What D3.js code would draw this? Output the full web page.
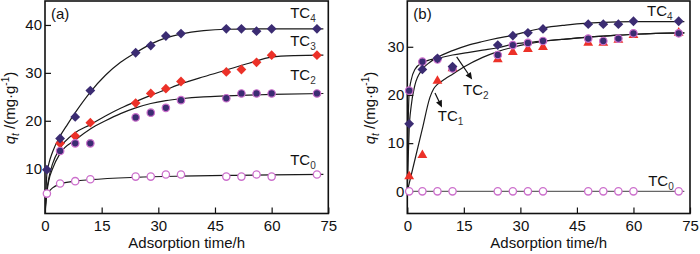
<!DOCTYPE html>
<html><head><meta charset="utf-8">
<script src="https://cdn.jsdelivr.net/npm/d3@7"></script>
<style>
html,body{margin:0;padding:0;background:#fff;}
svg text{font-family:"Liberation Sans",Arial,sans-serif;fill:#111;}
</style></head>
<body><svg id="c" width="700" height="254"></svg>
<script>
// ---------- data ----------
const times = [0.5, 4, 8, 12, 24, 28, 32, 36, 48, 52, 56, 60, 72];
const xTicks = [0, 15, 30, 45, 60, 75];
const yTicksA = [10, 20, 30, 40];
const yTicksB = [0, 10, 20, 30];

// panel (a) measured points
const aTC4 = [9.8, 16.3, 20.8, 26.3, 34.2, 35.7, 37.7, 38.2, 39.2, 39.2, 38.7, 39.2, 39.2];
const aTC3 = [null, 15.3, 16.8, 19.6, 23.7, 25.7, 26.7, 28.2, 30.2, 30.7, 32.2, 33.7, 33.7];
const aTC2 = [null, 13.7, 15.3, 15.3, 20.7, 21.7, 22.7, 24.3, 24.7, 25.7, 25.7, 25.7, 25.7];
const aTC0 = [4.8, 6.9, 7.4, 7.8, 8.35, 8.35, 8.8, 8.8, 8.35, 8.35, 8.8, 8.35, 8.8];

// panel (a) fitted curves [t, q]
const aFit4 = [[0,0.5],[0.25,5],[0.5,9],[1,11],[2,13.5],[4,16.8],[6,19.3],[8,21.7],[12,26],[16,29.5],[20,32.2],[24,34.2],[28,36],[32,37.3],[36,38.1],[42,38.8],[48,39.1],[60,39.2],[73.7,39.2]];
const aFit3 = [[0,0.5],[0.5,5.5],[1,8],[2,11],[4,14.3],[8,17.5],[12,19.2],[16,21],[20,22.6],[24,24],[28,25.3],[32,26.5],[36,27.7],[42,29.2],[48,30.6],[54,32],[60,33.3],[66,33.6],[73.7,33.7]];
const aFit2 = [[0,0.5],[0.5,5],[1,7.5],[2,10],[4,13.2],[8,16],[12,18.3],[16,20],[20,21.5],[24,22.7],[28,23.6],[32,24.2],[36,24.6],[42,25],[48,25.2],[60,25.5],[73.7,25.7]];
const aFit0 = [[0,3.8],[0.5,4.7],[1,5.2],[2,6],[4,6.8],[8,7.4],[12,7.7],[24,8.2],[36,8.45],[48,8.6],[60,8.7],[73.7,8.8]];

// panel (b) measured points
const bTC4 = [14, 25.3, 27.6, 25.9, 30.35, 32.3, 32.9, 33.7, 34.7, 34.7, 34.7, 35.3, 35.3];
const bTC2 = [20.9, 26.9, 27.4, 25.5, 28.3, 30.35, 30.8, 31.2, 31.7, 31.2, 31.7, 32.8, 32.8];
const bTC1 = [3.1, 7.5, 22.9, 25.5, 27.4, 28.9, 29.5, 29.9, 30.8, 30.8, 31.4, 32.4, 32.9];
const bTC0 = [0, 0, 0, 0, 0, 0, 0, 0, 0, 0, 0, 0, 0];

// panel (b) fitted curves
const bFit4 = [[0,0],[0.25,7],[0.5,13],[1,17.5],[2,22],[4,25.3],[6,26.8],[8,27.8],[12,29.2],[16,30.3],[20,31.1],[24,31.8],[28,32.4],[32,33.2],[36,33.9],[42,34.5],[48,34.9],[54,35.1],[60,35.2],[73.5,35.2]];
const bFit2 = [[0,0],[0.15,10],[0.5,20.5],[1,23],[2,25.3],[4,26.7],[6,27.3],[8,27.6],[12,28.3],[16,28.8],[20,29.3],[24,29.8],[28,30.5],[32,30.9],[36,31.2],[42,31.6],[48,32],[54,32.3],[60,32.6],[66,32.8],[73.5,32.9]];
const bFit1 = [[0,0],[2,6.5],[4,13],[6,19.5],[7,21.3],[8,22.2],[10,23.3],[12,24.3],[15,25.8],[20,27.8],[24,29],[28,29.9],[32,30.6],[36,31.1],[42,31.6],[48,32],[54,32.3],[60,32.6],[66,32.8],[73.5,32.9]];
const bFit0 = [[0,0],[73.5,0]];

// ---------- styles ----------
const NAVY = "#3b2c72", RED = "#ec3128", PINK = "#cc6fcc";
const svg = d3.select("#c");
const yTop = 1, yBottom = 213.5;

function panel(opts) {
  const x = d3.scaleLinear().domain([0, 75]).range(opts.xr);
  const y = d3.scaleLinear().domain(opts.yd).range([yBottom, yTop]);
  const g = svg.append("g");
  const cid = "clip" + opts.id;
  g.append("clipPath").attr("id", cid).append("rect")
    .attr("x", opts.xr[0]).attr("y", yTop).attr("width", opts.xr[1] - opts.xr[0]).attr("height", yBottom - yTop);

  const xa = g.append("g").attr("transform", `translate(0,${yBottom})`)
    .call(d3.axisBottom(x).tickValues(xTicks).tickSize(-6).tickPadding(10).tickFormat(d3.format("d")));
  const ya = g.append("g").attr("transform", `translate(${opts.xr[0]},0)`)
    .call(d3.axisLeft(y).tickValues(opts.yTicks).tickSize(-6).tickPadding(3).tickFormat(d3.format("d")));
  [xa, ya].forEach(a => {
    a.select(".domain").remove();
    a.selectAll("line").attr("stroke", "#111").attr("stroke-width", 1.2);
    a.selectAll("text").attr("font-size", 15).attr("fill", "#111")
      .style("font-family", '"Liberation Sans",Arial,sans-serif');
  });
  xa.selectAll("text").attr("dy", "0.71em").attr("y", 7);

  g.append("rect").attr("x", opts.xr[0]).attr("y", yTop)
    .attr("width", opts.xr[1] - opts.xr[0]).attr("height", yBottom - yTop)
    .attr("fill", "none").attr("stroke", "#111").attr("stroke-width", 1.6);

  const line = d3.line().x(d => x(d[0])).y(d => y(d[1])).curve(d3.curveMonotoneX);
  const cg = g.append("g").attr("clip-path", `url(#${cid})`);
  opts.fits.forEach(f => {
    cg.append("path").attr("d", line(f.data)).attr("fill", "none")
      .attr("stroke", f.color || "#1a1a1a").attr("stroke-width", 1.2);
  });

  opts.series.forEach(s => {
    const pts = times.map((t, i) => [t, s.data[i]]).filter(d => d[1] != null);
    const sym = d3.symbol().type(s.type).size(s.size);
    g.append("g").selectAll("path").data(pts).join("path")
      .attr("transform", d => `translate(${x(d[0])},${y(d[1])})` + (s.rot ? ` rotate(${s.rot})` : ""))
      .attr("d", sym)
      .attr("fill", s.fill).attr("stroke", s.stroke || "none").attr("stroke-width", s.sw || 0);
  });

  g.append("text").attr("x", (opts.xr[0] + opts.xr[1]) / 2).attr("y", 248)
    .attr("text-anchor", "middle").attr("font-size", 15).text("Adsorption time/h");

  const yt = g.append("text").attr("transform", `translate(${opts.ytx},108) rotate(-90)`)
    .attr("text-anchor", "middle").attr("font-size", 15);
  yt.append("tspan").attr("font-style", "italic").text("q");
  yt.append("tspan").attr("font-style", "italic").attr("font-size", 10).attr("dy", 4).text("t");
  yt.append("tspan").attr("dy", -4).text(" /(mg·g");
  yt.append("tspan").attr("font-size", 10).attr("dy", -6).text("-1");
  yt.append("tspan").attr("dy", 6).text(")");

  g.append("text").attr("x", opts.xr[0] + 6).attr("y", yTop + 18).attr("font-size", 15).text(opts.letter);

  opts.labels.forEach(l => {
    const t = g.append("text").attr("x", x(l.t)).attr("y", y(l.v)).attr("font-size", 15);
    t.append("tspan").text("TC");
    t.append("tspan").attr("font-size", 10).attr("dy", 4).attr("fill", "#333").text(l.sub);
  });

  opts.arrows.forEach(a => {
    const x1 = x(a[0]), y1 = y(a[1]), x2 = x(a[2]), y2 = y(a[3]);
    const ang = Math.atan2(y2 - y1, x2 - x1);
    const L = 7, Wd = 3.2;
    const bx = x2 - L * Math.cos(ang), by = y2 - L * Math.sin(ang);
    g.append("line").attr("x1", x1).attr("y1", y1).attr("x2", bx).attr("y2", by)
      .attr("stroke", "#111").attr("stroke-width", 1.2);
    g.append("path").attr("d", `M${x2},${y2}L${bx - Wd * Math.sin(ang)},${by + Wd * Math.cos(ang)}L${bx + Wd * Math.sin(ang)},${by - Wd * Math.cos(ang)}Z`)
      .attr("fill", "#111");
  });
}

panel({
  id: "a", letter: "(a)", xr: [45, 328.3], yd: [0.65, 45], yTicks: yTicksA, ytx: 15,
  fits: [{data: aFit0}, {data: aFit2}, {data: aFit3}, {data: aFit4}],
  series: [
    {data: aTC0, type: d3.symbolCircle, size: 42, fill: "#fff", stroke: PINK, sw: 1.3},
    {data: aTC3, type: d3.symbolSquare, size: 48, rot: 45, fill: RED},
    {data: aTC2, type: d3.symbolCircle, size: 44, fill: NAVY, stroke: PINK, sw: 1.2},
    {data: aTC4, type: d3.symbolSquare, size: 48, rot: 45, fill: NAVY}
  ],
  labels: [{t: 64.9, v: 41.35, sub: "4"}, {t: 64.9, v: 35.6, sub: "3"}, {t: 64.9, v: 28.5, sub: "2"}, {t: 64.9, v: 10.8, sub: "0"}],
  arrows: []
});

panel({
  id: "b", letter: "(b)", xr: [407.3, 690], yd: [-4.6, 39.5], yTicks: yTicksB, ytx: 375,
  fits: [{data: bFit0, color: "#666"}, {data: bFit1}, {data: bFit2}, {data: bFit4}],
  series: [
    {data: bTC0, type: d3.symbolCircle, size: 42, fill: "#fff", stroke: PINK, sw: 1.3},
    {data: bTC1, type: d3.symbolTriangle, size: 42, fill: RED},
    {data: bTC2, type: d3.symbolCircle, size: 44, fill: NAVY, stroke: PINK, sw: 1.2},
    {data: bTC4, type: d3.symbolSquare, size: 48, rot: 45, fill: NAVY}
  ],
  labels: [{t: 63.6, v: 36.3, sub: "4"}, {t: 63.9, v: 1.1, sub: "0"}, {t: 14.8, v: 20.0, sub: "2"}, {t: 8.1, v: 14.7, sub: "1"}],
  arrows: [[13.1, 27.9, 17.2, 23.2], [7.35, 20.4, 9.2, 17.4]]
});
</script></body></html>
